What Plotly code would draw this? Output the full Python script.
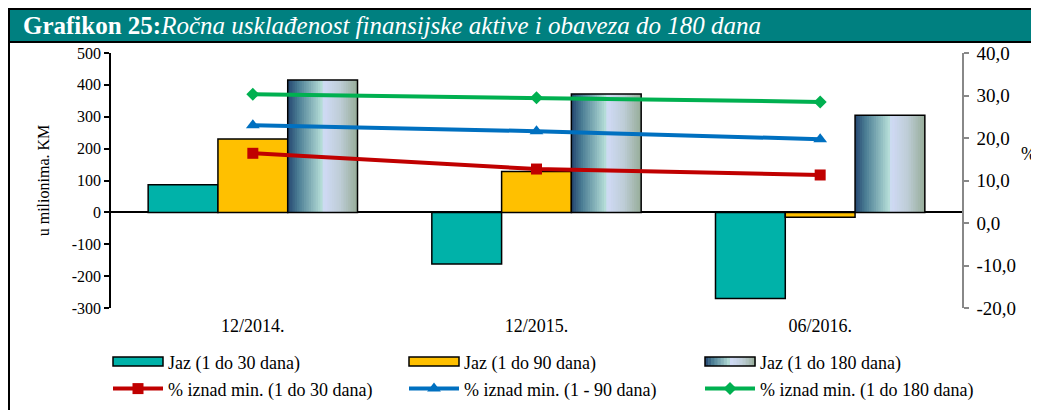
import plotly.graph_objects as go

# ---------------- data ----------------
categories = ["12/2014.", "12/2015.", "06/2016."]
jaz_30 = [87, -162, -270]
jaz_90 = [230, 128, -15]
jaz_180 = [415, 371, 305]
pct_30 = [16.4, 12.7, 11.3]
pct_90 = [23.0, 21.6, 19.7]
pct_180 = [30.3, 29.5, 28.5]

left_range = [-300, 500]
right_range = [-20, 40]
left_tick_vals = [-300, -200, -100, 0, 100, 200, 300, 400, 500]
left_tick_text = ["-300", "-200", "-100", "0", "100", "200", "300", "400", "500"]
right_tick_vals = [-20, -10, 0, 10, 20, 30, 40]
right_tick_text = ["-20,0", "-10,0", "0,0", "10,0", "20,0", "30,0", "40,0"]

name_j30 = "Jaz (1 do 30 dana)"
name_j90 = "Jaz (1 do 90 dana)"
name_j180 = "Jaz (1 do 180 dana)"
name_p30 = "% iznad min. (1 do 30 dana)"
name_p90 = "% iznad min. (1 - 90 dana)"
name_p180 = "% iznad min. (1 do 180 dana)"

title_bold = "Grafikon 25:"
title_italic = "Ročna usklađenost finansijske aktive i obaveza do 180 dana"
y_title = "u milionima. KM"
y2_title = "%"

# ---------------- layout geometry ----------------
OFF = 8  # page body margin
W, H = 1039 - OFF, 410 - OFF
ML, MR, MT, MB = 111 - OFF, W - (962 - OFF), 53 - OFF, H - (308 - OFF)
PW = W - ML - MR
PH = H - MT - MB


def px_x(p):
    return (p - OFF - ML) / PW


def px_y(p):
    return (H - MB - (p - OFF)) / PH


FONT = "Liberation Serif"
BW = 0.246  # bar width in category units
C_TEAL = "#00b2a9"
C_YEL = "#ffc000"

stops = [
    (0.0, (36, 70, 112)),
    (0.15, (75, 125, 148)),
    (0.50, (185, 225, 218)),
    (0.52, (208, 218, 246)),
    (0.75, (190, 205, 215)),
    (1.0, (150, 172, 152)),
]


def grad(t):
    for (t0, c0), (t1, c1) in zip(stops[:-1], stops[1:]):
        if t0 <= t <= t1:
            f = 0 if t1 == t0 else (t - t0) / (t1 - t0)
            return "rgb(%d,%d,%d)" % tuple(round(a + (b - a) * f) for a, b in zip(c0, c1))
    return "rgb(%d,%d,%d)" % stops[-1][1]


fig = go.Figure()

# legend-only entries for the bar series (swatches drawn as shapes below)
for nm in (name_j30, name_j90, name_j180):
    fig.add_trace(go.Scatter(
        x=[None], y=[None], name=nm, mode="lines", hoverinfo="skip",
        line=dict(color="rgba(0,0,0,0)", width=9),
    ))

fig.add_trace(go.Bar(
    x=categories, y=jaz_30, width=BW, offset=-1.5 * BW, showlegend=False,
    name=name_j30,
    marker=dict(color=C_TEAL, line=dict(color="black", width=1.5)),
))
fig.add_trace(go.Bar(
    x=categories, y=jaz_90, width=BW, offset=-0.5 * BW, showlegend=False,
    name=name_j90,
    marker=dict(color=C_YEL, line=dict(color="black", width=1.5)),
))

N = 30
sw = BW / N
for i in range(N):
    t = (i + 0.5) / N
    fig.add_trace(go.Bar(
        x=categories, y=jaz_180, width=sw * (1.6 if i < N - 1 else 1.0),
        offset=0.5 * BW + i * sw, showlegend=False, hoverinfo="skip",
        marker=dict(color=grad(t), line=dict(width=0)),
    ))
fig.add_trace(go.Bar(
    x=categories, y=jaz_180, width=BW, offset=0.5 * BW, showlegend=False,
    name=name_j180,
    marker=dict(color="rgba(0,0,0,0)", line=dict(color="black", width=1.5)),
))

fig.add_trace(go.Scatter(
    x=categories, y=pct_30, name=name_p30, yaxis="y2", mode="lines+markers",
    line=dict(color="#c00000", width=4),
    marker=dict(symbol="square", size=11, color="#c00000"),
))
fig.add_trace(go.Scatter(
    x=categories, y=pct_90, name=name_p90, yaxis="y2", mode="lines+markers",
    line=dict(color="#0070c0", width=4),
    marker=dict(symbol="triangle-up", size=12, color="#0070c0"),
))
fig.add_trace(go.Scatter(
    x=categories, y=pct_180, name=name_p180, yaxis="y2", mode="lines+markers",
    line=dict(color="#00b050", width=4),
    marker=dict(symbol="diamond", size=10, color="#00b050"),
))

# legend swatch shapes (bar series)
SW_X = [113, 409, 705]
SW_W = 50
SW_Y0, SW_Y1 = 357, 366
shapes = [
    dict(type="rect", xref="paper", yref="paper",
         x0=px_x(9), x1=px_x(1060), y0=px_y(430), y1=px_y(9),
         line=dict(color="black", width=2), fillcolor="rgba(0,0,0,0)", layer="below"),
    dict(type="rect", xref="paper", yref="paper",
         x0=px_x(9), x1=px_x(1060), y0=px_y(42), y1=px_y(9),
         line=dict(color="black", width=2), fillcolor="#008080", layer="above"),
]
for sx, col in zip(SW_X[:2], (C_TEAL, C_YEL)):
    shapes.append(dict(type="rect", xref="paper", yref="paper",
                       x0=px_x(sx), x1=px_x(sx + SW_W), y0=px_y(SW_Y1), y1=px_y(SW_Y0),
                       line=dict(color="black", width=1.5), fillcolor=col, layer="above"))
NS = 16
for i in range(NS):
    a = SW_X[2] + SW_W * i / NS
    b = SW_X[2] + SW_W * (i + 1) / NS
    shapes.append(dict(type="rect", xref="paper", yref="paper",
                       x0=px_x(a), x1=px_x(b + 0.6), y0=px_y(SW_Y1), y1=px_y(SW_Y0),
                       line=dict(width=0), fillcolor=grad((i + 0.5) / NS), layer="above"))
shapes.append(dict(type="rect", xref="paper", yref="paper",
                   x0=px_x(SW_X[2]), x1=px_x(SW_X[2] + SW_W), y0=px_y(SW_Y1), y1=px_y(SW_Y0),
                   line=dict(color="black", width=1.5), fillcolor="rgba(0,0,0,0)", layer="above"))

zero_pos = (0 - left_range[0]) / (left_range[1] - left_range[0])

fig.update_layout(
    width=W, height=H, autosize=False,
    margin=dict(l=ML, r=MR, t=MT, b=MB, pad=0, autoexpand=False),
    paper_bgcolor="white", plot_bgcolor="white",
    font=dict(family=FONT, size=16, color="black"),
    barmode="overlay", showlegend=True,
    xaxis=dict(
        type="category", categoryarray=categories, categoryorder="array",
        range=[-0.5, 2.5],
        showline=False, showgrid=False, zeroline=False, ticks="",
        tickfont=dict(size=18, family=FONT), ticklabelstandoff=5,
        automargin=False,
    ),
    xaxis2=dict(
        type="category", categoryarray=categories, categoryorder="array",
        range=[-0.5, 2.5], overlaying="x", anchor="free", position=zero_pos,
        side="bottom", tickson="boundaries", ticks="outside", ticklen=5,
        tickwidth=1, tickcolor="black", showticklabels=False,
        showline=False, showgrid=False, zeroline=False, automargin=False,
    ),
    yaxis=dict(
        range=left_range, tickvals=left_tick_vals, ticktext=left_tick_text,
        ticks="outside", ticklen=5, tickwidth=1.5, tickcolor="black",
        showline=True, linecolor="black", linewidth=1.5, showgrid=False,
        zeroline=True, zerolinecolor="black", zerolinewidth=2,
        tickfont=dict(size=16, family=FONT), automargin=False,
        title=dict(text=y_title, font=dict(size=16, family=FONT), standoff=18),
    ),
    yaxis2=dict(
        overlaying="y", side="right", range=right_range,
        tickvals=right_tick_vals, ticktext=right_tick_text,
        ticks="outside", ticklen=5, tickwidth=1.5, tickcolor="#888888",
        showline=True, linecolor="#888888", linewidth=1.5, showgrid=False,
        zeroline=False, ticklabelstandoff=4, automargin=False,
        tickfont=dict(size=19, family=FONT),
    ),
    legend=dict(
        orientation="h", x=px_x(108), xanchor="left", y=px_y(344), yanchor="top",
        font=dict(size=18, family=FONT), itemwidth=50,
        entrywidth=231, entrywidthmode="pixels", traceorder="normal",
        bgcolor="rgba(0,0,0,0)",
    ),
    shapes=shapes,
    annotations=[
        dict(xref="paper", yref="paper", x=px_x(21), y=px_y(26), xanchor="left",
             yanchor="middle", showarrow=False,
             text="<b>%s</b><i>%s</i>" % (title_bold, title_italic),
             font=dict(size=25, family=FONT, color="white")),
        dict(xref="paper", yref="paper", x=px_x(1029), y=px_y(154), xanchor="center",
             yanchor="middle", showarrow=False, text=y2_title,
             font=dict(size=18, family=FONT)),
    ],
)

fig.write_html("out.html")
